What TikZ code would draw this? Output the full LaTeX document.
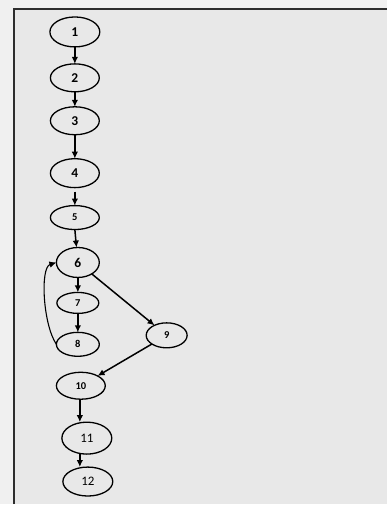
\documentclass[tikz,border=0pt]{standalone}
\usepackage{fontspec}
\setmainfont{Carlito}
\usepackage{tikz}
\usetikzlibrary{arrows.meta,shapes,positioning}
\definecolor{panel}{RGB}{232,232,232}
\definecolor{outer}{RGB}{240,240,240}
\definecolor{frame}{RGB}{45,45,45}
\tikzset{
  blk/.style={ellipse, draw, line width=1.3pt, inner sep=0pt, outer sep=0pt, minimum width=49pt, minimum height=28pt, font=\fontsize{13.5}{13.5}\selectfont\bfseries},
  sml/.style={blk, font=\fontsize{10.5}{10.5}\selectfont\bfseries},
  big/.style={blk, font=\fontsize{13}{13}\selectfont},
  flow/.style={-{Latex[length=7pt,width=6.5pt]}, line width=1.5pt}
}

\begin{document}
\begin{tikzpicture}[x=1pt,y=-1pt]
% background
 \fill[outer] (0,0) rectangle (388,505);
 \fill[panel] (14,9.5) rectangle (388,505);
 \draw[frame, line width=2pt] (14,505) -- (14,9.5) -- (388,9.5);
 \useasboundingbox (0,0) rectangle (388,505);
% nodes
 \node[blk, minimum height=30pt, minimum width=50pt] (n1) at (75,32) {1};
 \node[blk, below=17pt of n1] (n2) {2};
 \node[blk, below=15pt of n2] (n3) {3};
 \node[blk, below=24pt of n3, minimum height=29pt] (n4) {4};
 \node[sml, below=18pt of n4, minimum height=24pt] (n5) {5};
 \node[blk, below=18pt of n5, xshift=3pt, minimum width=43pt, minimum height=30pt] (n6) {6};
 \node[sml, below=15pt of n6, minimum width=42pt, minimum height=21pt] (n7) {7};
 \node[sml, below=19pt of n7, minimum width=43pt, minimum height=24pt] (n8) {8};
 \node[sml, minimum width=41pt, minimum height=25pt] (n9) at (167,336) {9};
 \node[sml, below=16pt of n8, xshift=3pt, minimum height=27pt] (n10) {10};
 \node[big, below=23pt of n10, xshift=6pt, minimum width=50pt, minimum height=32pt] (n11) {11};
 \node[big, below=13pt of n11, xshift=1pt, minimum width=50pt, minimum height=29pt] (n12) {12};

% edges
 \draw[flow] (n1) -- (n2);
 \draw[flow] (n2) -- (n3);
 \draw[flow] (n3) -- (n4);
 \draw[flow] ([yshift=-4pt]n4.south) -- (n5);
 \draw[flow] (n5.south) -- (n6);
 \draw[flow] (n6) -- (n7);
 \draw[flow] (n7) -- (n8);
 \draw[flow, line width=1.1pt] (n8.west) .. controls (43,325) and (40,268) .. (n6.west);
 \draw[flow] (n6) -- (n9);
 \draw[flow] (n9) -- (n10);
 \draw[flow] ([xshift=-1pt]n10.south) -- ([xshift=-1pt]n10.south |- n11.north);
 \draw[flow] ([xshift=-1pt,yshift=1pt]n10.south |- n11.south) -- ([xshift=-1pt]n10.south |- n12.north);
\end{tikzpicture}
\end{document}
